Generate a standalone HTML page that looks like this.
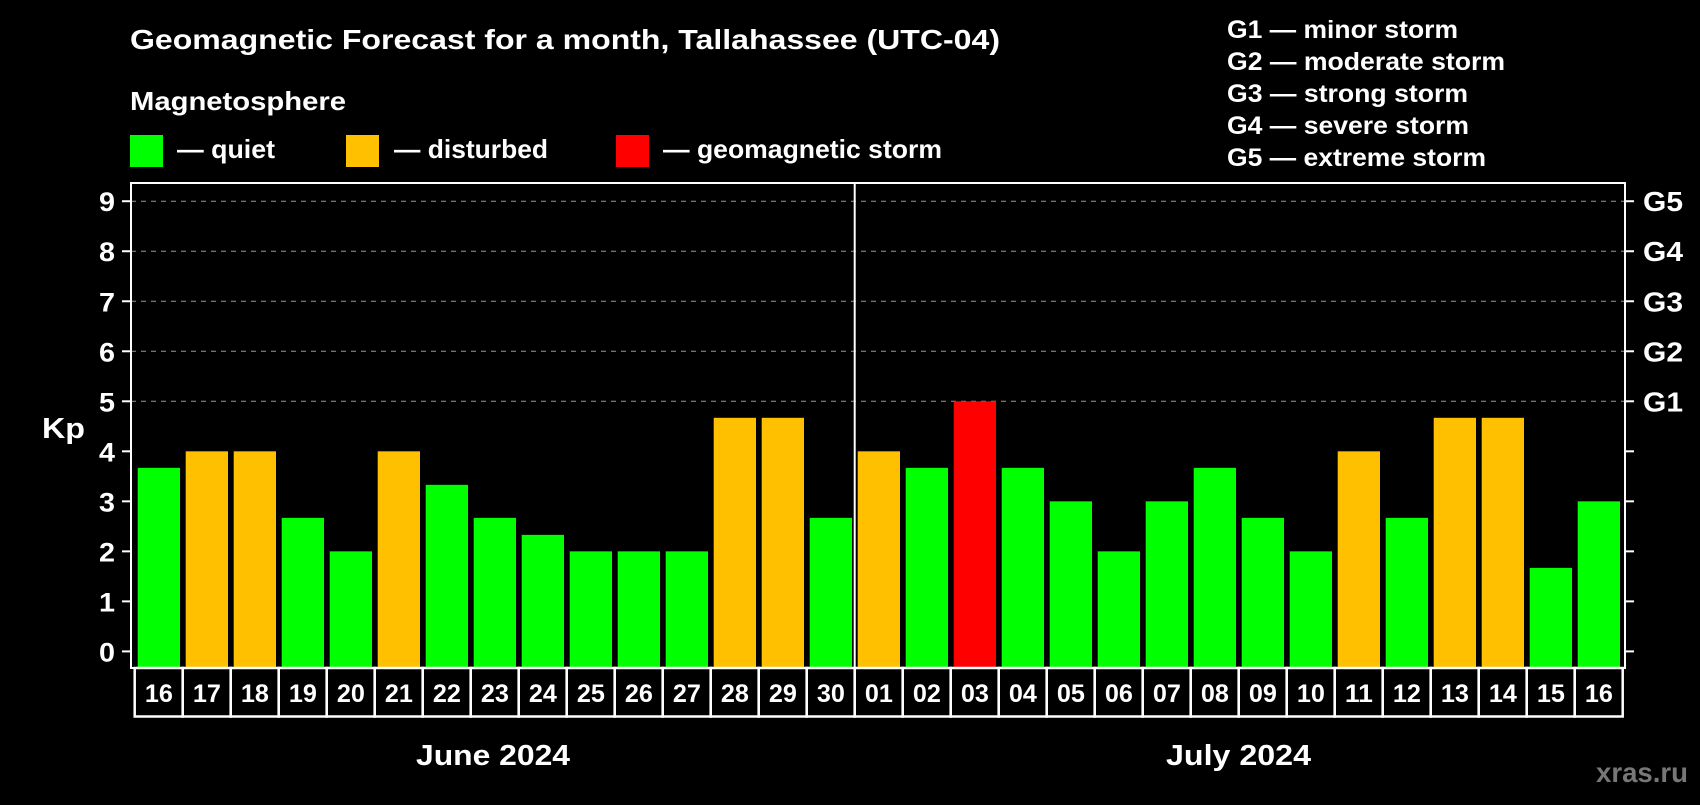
<!DOCTYPE html>
<html><head><meta charset="utf-8"><style>
body{margin:0;background:#000;width:1700px;height:800px;overflow:hidden}
svg text{font-family:"Liberation Sans",Arial,sans-serif;font-weight:bold;fill:#fff}
</style></head><body>
<svg id="chart" width="1700" height="800" xmlns="http://www.w3.org/2000/svg">
<text x="130" y="49" font-size="28" textLength="870" lengthAdjust="spacingAndGlyphs">Geomagnetic Forecast for a month, Tallahassee (UTC-04)</text>
<text x="130" y="110" font-size="26" textLength="216" lengthAdjust="spacingAndGlyphs">Magnetosphere</text>
<rect x="130" y="135" width="33" height="32" fill="#00ff00"/>
<text x="177" y="158" font-size="26" textLength="98" lengthAdjust="spacingAndGlyphs">— quiet</text>
<rect x="346" y="135" width="33" height="32" fill="#ffc000"/>
<text x="394" y="158" font-size="26" textLength="154" lengthAdjust="spacingAndGlyphs">— disturbed</text>
<rect x="616" y="135" width="33" height="32" fill="#ff0000"/>
<text x="663" y="158" font-size="26" textLength="279" lengthAdjust="spacingAndGlyphs">— geomagnetic storm</text>
<g font-size="25">
<text x="1227" y="38" textLength="231" lengthAdjust="spacingAndGlyphs">G1 — minor storm</text>
<text x="1227" y="70" textLength="278" lengthAdjust="spacingAndGlyphs">G2 — moderate storm</text>
<text x="1227" y="102" textLength="241" lengthAdjust="spacingAndGlyphs">G3 — strong storm</text>
<text x="1227" y="134" textLength="242" lengthAdjust="spacingAndGlyphs">G4 — severe storm</text>
<text x="1227" y="166" textLength="259" lengthAdjust="spacingAndGlyphs">G5 — extreme storm</text>
</g>
<text x="42" y="438" font-size="29" textLength="43" lengthAdjust="spacingAndGlyphs">Kp</text>
<text x="416" y="765" font-size="29" textLength="154" lengthAdjust="spacingAndGlyphs">June 2024</text>
<text x="1166" y="765" font-size="29" textLength="145" lengthAdjust="spacingAndGlyphs">July 2024</text>
<text x="1596" y="782" font-size="28" textLength="92" lengthAdjust="spacingAndGlyphs" style="fill:#777">xras.ru</text>
<g id="grid"></g><g id="bars"></g><g id="axes"></g>
</svg>
<script>
const days=["16","17","18","19","20","21","22","23","24","25","26","27","28","29","30","01","02","03","04","05","06","07","08","09","10","11","12","13","14","15","16"];
const kp=[3.67,4,4,2.67,2,4,3.33,2.67,2.33,2,2,2,4.67,4.67,2.67,4,3.67,5,3.67,3,2,3,3.67,2.67,2,4,2.67,4.67,4.67,1.67,3];
const yTicks=[0,1,2,3,4,5,6,7,8,9];
const gLabels=["G1","G2","G3","G4","G5"];
const NS="http://www.w3.org/2000/svg";
const L=131,R=1625,T=183,B=668,Y0=651.4,UNIT=50.02;
const x0=137.7,STEP=48,BW=42.3;
function y(v){return Y0-v*UNIT;}
function x(i){return x0+i*STEP;}
function mk(tag,attrs,parent){const e=document.createElementNS(NS,tag);for(const k in attrs)e.setAttribute(k,attrs[k]);document.getElementById(parent).appendChild(e);return e;}
function col(v){return v>=5?"#ff0000":v>=4?"#ffc000":"#00ff00";}
yTicks.forEach(v=>{
  if(v>=5){const g=mk("line",{x1:L,x2:R,y1:y(v),y2:y(v),stroke:"#999","stroke-dasharray":"5,5","stroke-width":1},"grid");
  
  }
  const t1=mk("line",{x1:L-9,x2:L,y1:y(v),y2:y(v),stroke:"#fff","stroke-width":2},"axes");
  
  
  const t2=mk("line",{x1:R,x2:R+9,y1:y(v),y2:y(v),stroke:"#fff","stroke-width":2},"axes");
  
  
  const lb=mk("text",{x:99,y:y(v)+10,"font-size":27,textLength:16,lengthAdjust:"spacingAndGlyphs"},"axes");lb.textContent=v;
  
  
  if(v>=5){const g=mk("text",{x:1643,y:y(v)+10,"font-size":28,textLength:40,lengthAdjust:"spacingAndGlyphs"},"axes");g.textContent=gLabels[v-5];
  
  }
});
kp.forEach((v,i)=>{
  const r=mk("rect",{x:x(i),y:y(v),width:BW,height:B-y(v),fill:col(v)},"bars");
  
  
  const c=mk("rect",{x:x(i)-3,y:B,width:STEP,height:48.5,fill:"none",stroke:"#fff","stroke-width":2.5},"axes");
  
  
  const t=mk("text",{x:x(i)+BW/2-14,y:B+34,"font-size":25,textLength:28,lengthAdjust:"spacingAndGlyphs"},"axes");t.textContent=days[i];
  
  
});
const fr=mk("rect",{x:L,y:T,width:R-L,height:B-T,fill:"none",stroke:"#fff","stroke-width":2},"axes");


const idx=days.indexOf("01");const dx=x(idx)-3;
const dv=mk("line",{x1:dx,x2:dx,y1:T,y2:B,stroke:"#fff","stroke-width":2},"axes");


</script>
</body></html>
